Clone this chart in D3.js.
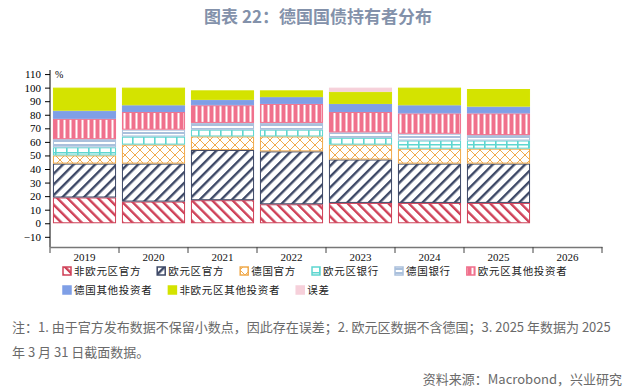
<!DOCTYPE html>
<html>
<head>
<meta charset="utf-8">
<script src="https://cdn.jsdelivr.net/npm/d3@7"></script>
<style>
  body { margin: 0; background: #fff; }
  svg { display: block; }
</style>
</head>
<body>
<script>
// years on the x axis (2026 has no data yet)
const years = ['2019', '2020', '2021', '2022', '2023', '2024', '2025', '2026'];

// holder shares in %
const nonEuroOfficial = [19, 16, 17, 14, 15, 15, 15];
const euroOfficial    = [25, 28, 37, 39, 32, 29, 29];
const deOfficial      = [6, 14, 10, 11, 11, 11, 11];
const euroBanks       = [6, 6, 5, 5, 5, 6, 6];
const deBanks         = [6, 5, 5, 5, 4, 5, 4];
const euroOther       = [15, 13, 13, 14, 15, 15, 16];
const deOther         = [6, 5, 4, 5, 6, 6, 5];
const nonEuroOther    = [17, 13, 7, 5, 9, 13, 13];
const errorTerm       = [0, 0, 0, 0, 3, 0, 0];

const seriesNames = ['非欧元区官方', '欧元区官方', '德国官方', '欧元区银行', '德国银行',
                     '欧元区其他投资者', '德国其他投资者', '非欧元区其他投资者', '误差'];
const seriesValues = [nonEuroOfficial, euroOfficial, deOfficial, euroBanks, deBanks,
                      euroOther, deOther, nonEuroOther, errorTerm];

const yTicks = [-10, 0, 10, 20, 30, 40, 50, 60, 70, 80, 90, 100, 110];

// build rows for d3.stack
const rows = years.slice(0, nonEuroOfficial.length).map((y, i) => {
  const r = { year: y };
  seriesNames.forEach((k, j) => { r[k] = seriesValues[j][i]; });
  return r;
});

const width = 639, height = 391;
const margin = ({ top: 70, right: 37, bottom: 144, left: 50 });

const svg = d3.select('body')
  .append('svg')
  .attr('width', width)
  .attr('height', height);

// ---- patterns ----
const defs = svg.append('defs');
const colors = ['#cf4158', '#3d4866', '#f0aa4c', '#5ed6d0', '#aac0dc', '#f0708c', '#7f9fe6', '#d4e300', '#f6d0da'];

function stripes(id, color, angle, size, lw) {
  const p = defs.append('pattern').attr('id', id)
    .attr('patternUnits', 'userSpaceOnUse')
    .attr('width', size).attr('height', size)
    .attr('patternTransform', `rotate(${angle})`);
  p.append('rect').attr('width', size).attr('height', size).attr('fill', '#fff');
  p.append('rect').attr('x', 0).attr('width', lw).attr('height', size).attr('fill', color);
}
stripes('p0', colors[0], -45, 7.2, 2.4);
stripes('p1', colors[1], 45, 7.6, 2.4);

// crosshatch
let p = defs.append('pattern').attr('id', 'p2').attr('patternUnits', 'userSpaceOnUse')
  .attr('width', 10).attr('height', 10);
p.append('rect').attr('width', 10).attr('height', 10).attr('fill', '#fff');
p.append('path').attr('d', 'M0,0L10,10M10,0L0,10').attr('stroke', colors[2]).attr('stroke-width', 1);

// brick grid
p = defs.append('pattern').attr('id', 'p3').attr('patternUnits', 'userSpaceOnUse')
  .attr('width', 11).attr('height', 8);
p.append('rect').attr('width', 11).attr('height', 8).attr('fill', '#fff');
p.append('path').attr('d', 'M0,0.8H11M0.8,0V8').attr('stroke', colors[3]).attr('stroke-width', 1.6);

// horizontal lines
p = defs.append('pattern').attr('id', 'p4').attr('patternUnits', 'userSpaceOnUse')
  .attr('width', 4).attr('height', 4);
p.append('rect').attr('width', 4).attr('height', 4).attr('fill', '#fff');
p.append('rect').attr('width', 4).attr('height', 2).attr('fill', colors[4]);

// vertical stripes
p = defs.append('pattern').attr('id', 'p5').attr('patternUnits', 'userSpaceOnUse')
  .attr('width', 6).attr('height', 6);
p.append('rect').attr('width', 6).attr('height', 6).attr('fill', colors[5]);
p.append('rect').attr('x', 3.5).attr('width', 2).attr('height', 6).attr('fill', '#fff');

const fills = ['url(#p0)', 'url(#p1)', 'url(#p2)', 'url(#p3)', 'url(#p4)', 'url(#p5)',
               colors[6], colors[7], colors[8]];

// ---- scales ----
const xScale = d3.scaleBand()
  .domain(years)
  .range([margin.left, width - margin.right]);

const yScale = d3.scaleLinear()
  .domain([-17.5, 113])
  .range([height - margin.bottom, margin.top]);

const stacked = d3.stack().keys(seriesNames)(rows);

const barW = xScale.bandwidth() * 0.9;

svg.append('g')
  .selectAll('g')
  .data(stacked)
  .join('g')
  .attr('fill', (d, i) => fills[i])
  .attr('stroke', (d, i) => colors[i])
  .selectAll('rect')
  .data(d => d.filter(s => s[1] - s[0] > 0))
  .join('rect')
  .attr('x', d => xScale(d.data.year) + (xScale.bandwidth() - barW) / 2)
  .attr('y', d => yScale(d[1]) + 0.5)
  .attr('height', d => yScale(d[0]) - yScale(d[1]) - 1)
  .attr('width', barW)
  .attr('stroke-width', 1);

// ---- axes ----
const yAxis = d3.axisLeft(yScale).tickValues(yTicks).tickSize(5).tickPadding(4);
const gy = svg.append('g')
  .attr('transform', `translate(${margin.left},0)`)
  .call(yAxis);
gy.select('.domain').attr('d', `M0,${yScale(113)}V${yScale(-17.5)}`).attr('stroke', '#000');
gy.selectAll('text').attr('font-family', 'Liberation Serif, serif').attr('font-size', 11).attr('fill', '#000');

svg.append('text')
  .attr('x', margin.left + 5)
  .attr('y', yScale(110) + 4)
  .attr('font-family', 'Liberation Serif, serif')
  .attr('font-size', 10)
  .text('%');

const xAxis = d3.axisBottom(xScale).tickSize(0).tickPadding(6);
const gx = svg.append('g')
  .attr('transform', `translate(0,${height - margin.bottom})`)
  .call(xAxis);
gx.select('.domain').attr('stroke', '#777').attr('stroke-width', 1.5);
gx.selectAll('text').attr('font-family', 'Liberation Serif, serif').attr('font-size', 11).attr('fill', '#111');

// tick marks at the band edges
const edges = years.map(d => xScale(d)).concat([xScale.range()[1]]);
gx.selectAll('.edge')
  .data(edges)
  .join('line')
  .attr('class', 'edge')
  .attr('x1', d => d).attr('x2', d => d)
  .attr('y1', 0).attr('y2', 6)
  .attr('stroke', '#444');

// ---- legend ----
const legendRows = [seriesNames.slice(0, 6), seriesNames.slice(6)];
legendRows.forEach((names, r) => {
  let x = 63;
  const y = 271 + r * 19;
  names.forEach(name => {
    const i = seriesNames.indexOf(name);
    svg.append('rect')
      .attr('x', x).attr('y', y - 4)
      .attr('width', 8).attr('height', 8)
      .attr('fill', fills[i])
      .attr('stroke', colors[i])
      .attr('stroke-width', 1.5);
    const t = svg.append('text')
      .attr('x', x + 11).attr('y', y + 4)
      .attr('font-family', 'Noto Sans CJK SC, sans-serif')
      .attr('font-size', 10.5)
      .attr('letter-spacing', 0.7)
      .attr('fill', '#222')
      .text(name);
    x += 11 + t.node().getComputedTextLength() + 16;
  });
});

// ---- title and notes ----
svg.append('text')
  .attr('x', 318).attr('y', 23)
  .attr('text-anchor', 'middle')
  .attr('font-family', 'Noto Sans CJK SC, sans-serif')
  .attr('font-weight', 'bold')
  .attr('font-size', 17)
  .attr('fill', '#8391aa')
  .text('图表 22：德国国债持有者分布');

const notes = ['注：1. 由于官方发布数据不保留小数点，因此存在误差；2. 欧元区数据不含德国；3. 2025 年数据为 2025',
               '年 3 月 31 日截面数据。'];
notes.forEach((s, i) => {
  svg.append('text')
    .attr('x', 12).attr('y', 332 + i * 25)
    .attr('font-family', 'Noto Sans CJK SC, sans-serif')
    .attr('font-size', 13)
    .attr('fill', '#6a6a6a')
    .text(s);
});

svg.append('text')
  .attr('x', 622).attr('y', 384)
  .attr('text-anchor', 'end')
  .attr('font-family', 'Noto Sans CJK SC, sans-serif')
  .attr('font-size', 13)
  .attr('fill', '#6a6a6a')
  .text('资料来源：Macrobond，兴业研究');
</script>
</body>
</html>
